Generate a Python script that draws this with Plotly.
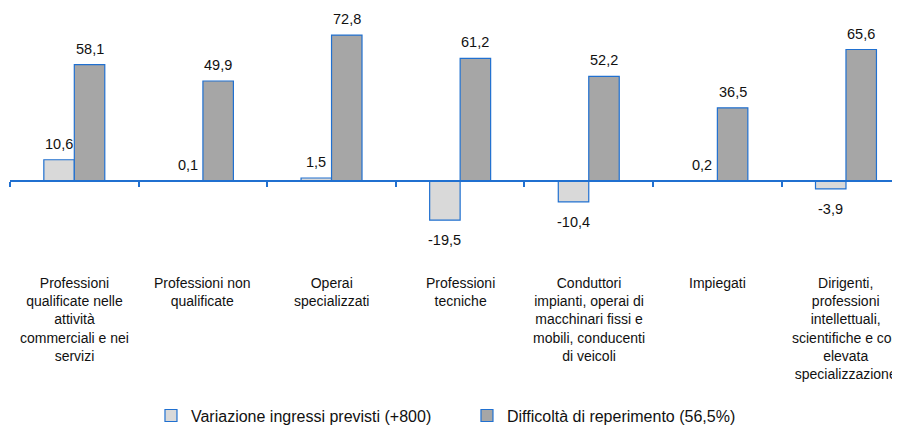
import plotly.graph_objects as go

# Categories (one per occupational group)
categories = [
    "Professioni<br>qualificate nelle<br>attività<br>commerciali e nei<br>servizi",
    "Professioni non<br>qualificate",
    "Operai<br>specializzati",
    "Professioni<br>tecniche",
    "Conduttori<br>impianti, operai di<br>macchinari fissi e<br>mobili, conducenti<br>di veicoli",
    "Impiegati",
    "Dirigenti,<br>professioni<br>intellettuali,<br>scientifiche e con<br>elevata<br>specializzazione",
]
variazione = [10.6, 0.1, 1.5, -19.5, -10.4, 0.2, -3.9]
difficolta = [58.1, 49.9, 72.8, 61.2, 52.2, 36.5, 65.6]

series_names = ["Variazione ingressi previsti (+800)", "Difficoltà di reperimento (56,5%)"]

BLUE = "#2070d0"
TXT = "#111111"
FONT = "Liberation Sans, Arial, sans-serif"

x_idx = list(range(len(categories)))


def fmt(v):
    return f"{v:.1f}".replace(".", ",")


fig = go.Figure()
fig.add_trace(go.Bar(
    x=x_idx, y=variazione, name=series_names[0],
    marker=dict(color="#d9d9d9", line=dict(color=BLUE, width=1.2)),
))
fig.add_trace(go.Bar(
    x=x_idx, y=difficolta, name=series_names[1],
    marker=dict(color="#a6a6a6", line=dict(color=BLUE, width=1.2)),
))

# value labels (half a bar to the left / right of the category centre)
for shift, vals in ((-15.25, variazione), (15.25, difficolta)):
    for i, v in zip(x_idx, vals):
        fig.add_annotation(x=i, y=v, text=fmt(v), showarrow=False,
                           xshift=shift, yshift=16 if v >= 0 else -20,
                           yanchor="middle", font=dict(size=14.5, color=TXT))

# category labels below the chart
for i, c in zip(x_idx, categories):
    fig.add_annotation(x=i, y=-0.097, xref="x", yref="paper", text=c,
                       showarrow=False, yanchor="top", xanchor="center",
                       align="center", font=dict(size=14, color=TXT))

fig.update_layout(
    width=892, height=419,
    margin=dict(l=2, r=0, t=2, b=177, autoexpand=False),
    paper_bgcolor="white", plot_bgcolor="white",
    font=dict(family=FONT, size=14, color=TXT),
    barmode="group", bargap=0.526, bargroupgap=0,
    showlegend=True,
    legend=dict(orientation="h", x=0.1584, xanchor="left", y=-0.69, yanchor="middle",
                font=dict(size=16), itemwidth=30, traceorder="normal",
                entrywidth=271, entrywidthmode="pixels"),
    xaxis=dict(
        range=[-0.5, 6.42], showgrid=False, zeroline=False,
        showline=True, linecolor=BLUE, linewidth=1.5,
        tickmode="array", tickvals=[i - 0.5 for i in x_idx], ticktext=["" for _ in x_idx],
        ticks="outside", ticklen=5, tickcolor=BLUE, tickwidth=1.5,
        anchor="free", position=0.2875,
    ),
    yaxis=dict(range=[-34.4, 85.3], visible=False),
)

fig.write_html("out.html")
